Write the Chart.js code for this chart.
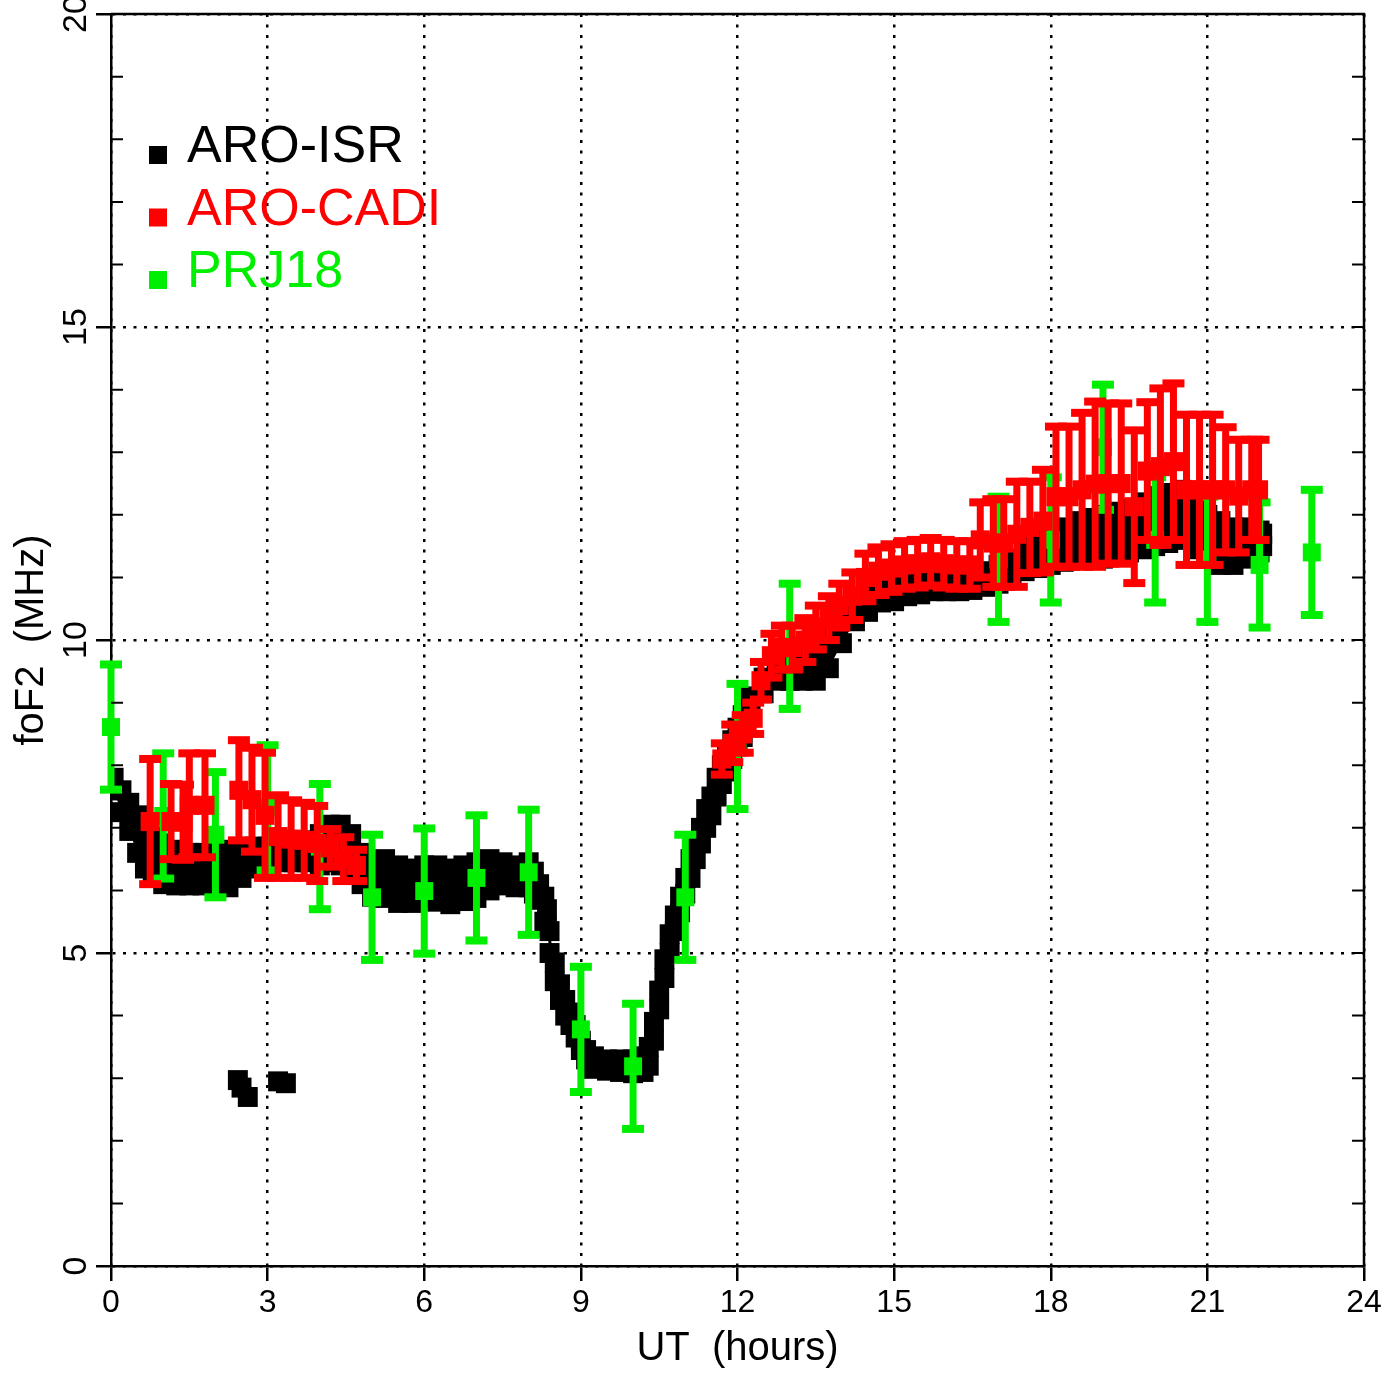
<!DOCTYPE html>
<html>
<head>
<meta charset="utf-8">
<title>foF2 vs UT</title>
<script src="https://cdn.jsdelivr.net/npm/chart.js@4.4.0/dist/chart.umd.min.js"></script>
<style>
  html, body { margin: 0; padding: 0; background: #ffffff; }
  #wrap { width: 1388px; height: 1373px; position: relative; }
</style>
</head>
<body>
<div id="wrap"><canvas id="fof2Chart"></canvas></div>
<script>
// ARO-ISR: upper and lower edge of the black trace
const isrTime = [0.05, 0.2, 0.35, 0.5, 0.65, 0.8, 1.0, 1.25, 1.5, 1.75, 2.0, 2.25, 2.5, 2.75, 3.0, 3.25, 3.5, 3.75,
  4.0, 4.2, 4.4, 4.6, 4.8, 5.0, 5.25, 5.5, 5.75, 6.0, 6.25, 6.5, 6.75, 7.0, 7.25, 7.5, 7.75,
  8.0, 8.1, 8.2, 8.3, 8.35, 8.4, 8.5, 8.6, 8.7, 8.8, 8.9, 9.0, 9.1, 9.25, 9.5, 9.75,
  10.0, 10.2, 10.3, 10.4, 10.5, 10.6, 10.7, 10.8, 10.9, 11.0, 11.1, 11.2, 11.3, 11.4, 11.5, 11.6, 11.7, 11.8, 11.9,
  12.0, 12.1, 12.25, 12.5, 12.75, 13.0, 13.25, 13.5, 13.75, 14.0, 14.25, 14.5, 14.75, 15.0, 15.25, 15.5, 15.75,
  16.0, 16.25, 16.5, 16.75, 17.0, 17.25, 17.5, 17.75, 18.0, 18.25, 18.5, 18.75, 19.0, 19.25, 19.5, 19.75,
  20.0, 20.25, 20.5, 20.75, 21.0, 21.25, 21.5, 21.75, 22.0, 22.05];
const isrHigh = [7.8, 7.6, 7.4, 7.2, 7.05, 6.85, 6.75, 6.65, 6.6, 6.6, 6.6, 6.65, 6.65, 6.7, 6.7, 6.7, 6.75, 6.8,
  6.9, 7.05, 7.05, 6.9, 6.6, 6.45, 6.5, 6.4, 6.35, 6.4, 6.4, 6.35, 6.4, 6.45, 6.5, 6.45, 6.4,
  6.45, 6.3, 6.1, 5.9, 5.7, 5.35, 4.85, 4.5, 4.25, 4.05, 3.85, 3.6, 3.45, 3.35, 3.3, 3.3,
  3.3, 3.35, 3.5, 3.9, 4.4, 4.9, 5.3, 5.6, 5.9, 6.2, 6.5, 6.75, 7.0, 7.3, 7.5, 7.8, 8.0, 8.2, 8.4,
  8.6, 8.8, 9.1, 9.4, 9.65, 9.8, 9.9, 10.0, 10.2, 10.4, 10.6, 10.8, 10.9, 11.0, 11.0, 11.0, 11.0,
  11.0, 11.0, 11.05, 11.1, 11.2, 11.3, 11.5, 11.6, 11.7, 11.8, 11.9, 11.95, 12.0, 12.05, 12.1, 12.2,
  12.3, 12.35, 12.4, 12.2, 12.0, 11.9, 11.8, 11.8, 11.75, 11.7];
const isrLow = [7.6, 7.25, 6.95, 6.6, 6.35, 6.2, 6.1, 6.08, 6.08, 6.08, 6.05, 6.05, 6.2, 6.35, 6.4, 6.45, 6.45, 6.45,
  6.4, 6.45, 6.4, 6.3, 6.1, 5.9, 5.88, 5.8, 5.8, 5.88, 5.82, 5.78, 5.83, 5.88, 6.0, 6.08, 6.05,
  6.05, 5.95, 5.85, 5.5, 5.4, 5.0, 4.55, 4.25, 4.0, 3.85, 3.65, 3.45, 3.3, 3.15, 3.12, 3.1,
  3.08, 3.1, 3.2, 3.6, 4.1, 4.6, 5.0, 5.35, 5.65, 5.95, 6.2, 6.5, 6.75, 7.0, 7.2, 7.5, 7.7, 7.9, 8.1,
  8.3, 8.45, 8.8, 9.15, 9.35, 9.35, 9.35, 9.35, 9.55, 9.95, 10.3, 10.45, 10.6, 10.62, 10.7, 10.73, 10.78,
  10.78, 10.78, 10.8, 10.85, 10.9, 11.0, 11.1, 11.15, 11.2, 11.25, 11.3, 11.3, 11.3, 11.35, 11.4, 11.45,
  11.5, 11.55, 11.6, 11.45, 11.3, 11.2, 11.2, 11.3, 11.4, 11.5];
// the few low ISR points near 3 UT
const isrOutTime = [2.43, 2.5, 2.62, 3.2, 3.35];
const isrOutFoF2 = [2.97, 2.85, 2.70, 2.95, 2.92];

// ARO-CADI with its error bars
const cadiTime = [0.75, 1.15, 1.38, 1.5, 1.8, 2.45, 2.7, 2.95, 3.2, 3.45, 3.7, 3.95, 4.2, 4.45, 4.7,
  11.7, 11.9, 12.1, 12.3, 12.45, 12.65, 12.85, 13.05, 13.3, 13.5, 13.75, 13.95, 14.2, 14.45, 14.7, 14.95,
  15.2, 15.45, 15.7, 15.95, 16.2, 16.45, 16.65, 16.9, 17.1, 17.35, 17.6, 17.85, 18.1, 18.35, 18.6, 18.85,
  19.1, 19.35, 19.6, 19.85, 20.1, 20.35, 20.6, 20.85, 21.1, 21.35, 21.6, 21.85, 21.98];
const cadiFoF2 = [7.1, 7.1, 7.09, 7.36, 7.36, 7.6, 7.45, 7.2, 6.86, 6.82, 6.8, 6.75, 6.68, 6.5, 6.4,
  8.1, 8.35, 8.5, 8.75, 9.35, 9.75, 9.88, 9.88, 10.0, 10.2, 10.35, 10.55, 10.7, 11.0, 11.1, 11.15,
  11.2, 11.22, 11.25, 11.22, 11.2, 11.2, 11.6, 11.55, 11.55, 11.69, 11.8, 11.9, 12.29, 12.29, 12.4, 12.49,
  12.5, 12.5, 12.13, 12.7, 12.77, 12.85, 12.4, 12.4, 12.4, 12.4, 12.3, 12.4, 12.4];
const cadiErr = [1.0, 0.6, 0.6, 0.83, 0.83, 0.8, 0.83, 1.0, 0.66, 0.62, 0.6, 0.6, 0.3, 0.35, 0.25,
  0.25, 0.3, 0.3, 0.25, 0.3, 0.35, 0.35, 0.35, 0.35, 0.35, 0.35, 0.35, 0.38, 0.38, 0.38, 0.38,
  0.38, 0.38, 0.38, 0.38, 0.38, 0.38, 0.6, 0.7, 0.7, 0.84, 0.73, 0.82, 1.12, 1.12, 1.23, 1.32,
  1.28, 1.28, 1.22, 1.1, 1.25, 1.25, 1.2, 1.2, 1.2, 1.0, 0.9, 0.8, 0.8];

// PRJ18 hourly values with error bars
const prjTime = [0, 1, 2, 3, 4, 5, 6, 7, 8, 9, 10, 11, 12, 13, 17, 18, 19, 20, 21, 22, 23];
const prjFoF2 = [8.61, 7.19, 6.89, 7.32, 6.70, 5.89, 5.99, 6.20, 6.29, 3.78, 3.19, 5.89, 8.30, 9.90,
  11.29, 11.60, 13.08, 11.60, 11.29, 11.20, 11.40];
const prjErr = [1.0, 1.0, 1.0, 1.0, 1.0, 1.0, 1.0, 1.0, 1.0, 1.0, 1.0, 1.0, 1.0, 1.0,
  1.0, 1.0, 1.0, 1.0, 1.0, 1.0, 1.0];

const seriesNames = ['ARO-ISR', 'ARO-CADI', 'PRJ18'];
const xTicks = [0, 3, 6, 9, 12, 15, 18, 21, 24];
const yTicks = [0, 5, 10, 15, 20];

const FONT = "'Liberation Sans', Arial, Helvetica, sans-serif";
const ISR_COLOR = '#000000';
const CADI_COLOR = '#ff0000';
const PRJ_COLOR = '#00ee00';

const toPoints = (xs, ys) => xs.map((x, i) => ({ x: x, y: ys[i] }));

// vertical error bars with flat caps, drawn just under each dataset's markers
const errorBarPlugin = {
    id: 'errorBars',
    beforeDatasetDraw(chart, args, opts) {
        const ds = chart.data.datasets[args.index];
        if (!ds.errorBars) return;
        const ctx = chart.ctx;
        const yScale = chart.scales.y;
        ctx.save();
        ctx.fillStyle = ds.backgroundColor;
        args.meta.data.forEach((pt, i) => {
            const v = ds.data[i].y;
            const e = ds.errorBars[i];
            const yTop = yScale.getPixelForValue(v + e);
            const yBot = yScale.getPixelForValue(v - e);
            ctx.fillRect(pt.x - opts.barWidth / 2, yTop, opts.barWidth, yBot - yTop);
            ctx.fillRect(pt.x - opts.capWidth / 2, yTop - opts.capThickness / 2, opts.capWidth, opts.capThickness);
            ctx.fillRect(pt.x - opts.capWidth / 2, yBot - opts.capThickness / 2, opts.capWidth, opts.capThickness);
        });
        ctx.restore();
    }
};

// top/right frame and the small inward ticks every 1 MHz
const framePlugin = {
    id: 'frame',
    afterDraw(chart) {
        const ctx = chart.ctx;
        const { left, right, top, bottom } = chart.chartArea;
        const yScale = chart.scales.y;
        ctx.save();
        ctx.strokeStyle = '#000';
        ctx.lineWidth = 2.5;
        ctx.beginPath();
        ctx.moveTo(left, top);
        ctx.lineTo(right, top);
        ctx.lineTo(right, bottom);
        ctx.stroke();
        ctx.lineWidth = 2;
        ctx.beginPath();
        for (let v = yScale.min + 1; v < yScale.max; v++) {
            const y = yScale.getPixelForValue(v);
            if (v % 5 !== 0) {
                ctx.moveTo(left, y);
                ctx.lineTo(left + 12, y);
            }
            ctx.moveTo(right, y);
            ctx.lineTo(right - 12, y);
        }
        ctx.stroke();
        ctx.restore();
    }
};

// legend in the upper-left corner of the plot
const cornerLegendPlugin = {
    id: 'cornerLegend',
    afterDraw(chart, args, opts) {
        const ctx = chart.ctx;
        ctx.save();
        ctx.font = opts.fontSize + 'px ' + FONT;
        ctx.textBaseline = 'alphabetic';
        opts.items.forEach((item, i) => {
            const y = opts.y + i * opts.rowGap;
            ctx.fillStyle = item.color;
            ctx.fillRect(opts.x - opts.box / 2, y - opts.box / 2, opts.box, opts.box);
            ctx.fillText(item.text, opts.textX, y + opts.baselineShift);
        });
        ctx.restore();
    }
};

const ctx = document.getElementById('fof2Chart').getContext('2d');
const chart = new Chart(ctx, {
    type: 'line',
    data: {
        datasets: [
            {
                label: seriesNames[0],
                data: toPoints(isrTime, isrHigh),
                order: 2,
                showLine: true,
                borderWidth: 0,
                borderColor: 'rgba(0,0,0,0)',
                backgroundColor: ISR_COLOR,
                pointStyle: 'rect',
                pointRadius: 14.1,
                pointBorderWidth: 0,
                fill: false
            },
            {
                label: seriesNames[0],
                data: toPoints(isrTime, isrLow),
                order: 2,
                showLine: true,
                borderWidth: 0,
                borderColor: 'rgba(0,0,0,0)',
                backgroundColor: ISR_COLOR,
                pointStyle: 'rect',
                pointRadius: 14.1,
                pointBorderWidth: 0,
                fill: '-1'
            },
            {
                label: seriesNames[0],
                data: toPoints(isrOutTime, isrOutFoF2),
                order: 2,
                showLine: false,
                backgroundColor: ISR_COLOR,
                borderColor: ISR_COLOR,
                pointStyle: 'rect',
                pointRadius: 14.1,
                pointBorderWidth: 0
            },
            {
                label: seriesNames[2],
                data: toPoints(prjTime, prjFoF2),
                errorBars: prjErr,
                order: 1,
                clip: false,
                showLine: false,
                backgroundColor: PRJ_COLOR,
                borderColor: PRJ_COLOR,
                pointStyle: 'rect',
                pointRadius: 12.7,
                pointBorderWidth: 0
            },
            {
                label: seriesNames[1],
                data: toPoints(cadiTime, cadiFoF2),
                errorBars: cadiErr,
                order: 0,
                clip: false,
                showLine: false,
                backgroundColor: CADI_COLOR,
                borderColor: CADI_COLOR,
                pointStyle: 'rect',
                pointRadius: 13.5,
                pointBorderWidth: 0
            }
        ]
    },
    options: {
        responsive: true,
        maintainAspectRatio: false,
        animation: false,
        events: [],
        layout: { padding: { top: 14, right: 24, left: 0, bottom: 0 } },
        plugins: {
            legend: { display: false },
            tooltip: { enabled: false },
            errorBars: { barWidth: 7, capWidth: 22, capThickness: 8 },
            cornerLegend: {
                x: 158, y: 155, rowGap: 62.5, box: 18,
                textX: 187, baselineShift: 7, fontSize: 52,
                items: [
                    { text: seriesNames[0], color: ISR_COLOR },
                    { text: seriesNames[1], color: CADI_COLOR },
                    { text: seriesNames[2], color: PRJ_COLOR }
                ]
            }
        },
        scales: {
            x: {
                type: 'linear',
                min: 0,
                max: 24,
                afterBuildTicks: s => { s.ticks = xTicks.map(v => ({ value: v })); },
                afterFit: s => { s.height = 107; s.paddingLeft = 0; s.paddingRight = 0; },
                grid: {
                    color: '#000',
                    lineWidth: 2.5,
                    drawTicks: true,
                    tickLength: 15,
                    tickWidth: 2.5,
                    tickColor: '#000'
                },
                border: { display: true, color: '#000', width: 2.5, dash: [3, 7.5] },
                ticks: {
                    color: '#000',
                    font: { family: FONT, size: 32 },
                    padding: 3,
                    autoSkip: false,
                    maxRotation: 0
                },
                title: {
                    display: true,
                    text: 'UT  (hours)',
                    color: '#000',
                    font: { family: FONT, size: 40 },
                    padding: { top: 0, bottom: 0 }
                }
            },
            y: {
                type: 'linear',
                min: 0,
                max: 20,
                afterBuildTicks: s => { s.ticks = yTicks.map(v => ({ value: v })); },
                afterFit: s => { s.width = 111; s.paddingTop = 0; s.paddingBottom = 0; },
                grid: {
                    color: '#000',
                    lineWidth: 2.5,
                    drawTicks: true,
                    tickLength: 15,
                    tickWidth: 2.5,
                    tickColor: '#000'
                },
                border: { display: true, color: '#000', width: 2.5, dash: [3, 7.5] },
                ticks: {
                    color: '#000',
                    font: { family: FONT, size: 34 },
                    padding: 0,
                    minRotation: 90,
                    maxRotation: 90,
                    crossAlign: 'center',
                    autoSkip: false
                },
                title: {
                    display: true,
                    text: 'foF2  (MHz)',
                    color: '#000',
                    font: { family: FONT, size: 40 },
                    padding: { top: 8, bottom: 0 }
                }
            }
        }
    },
    plugins: [errorBarPlugin, framePlugin, cornerLegendPlugin]
});
</script>
</body>
</html>
